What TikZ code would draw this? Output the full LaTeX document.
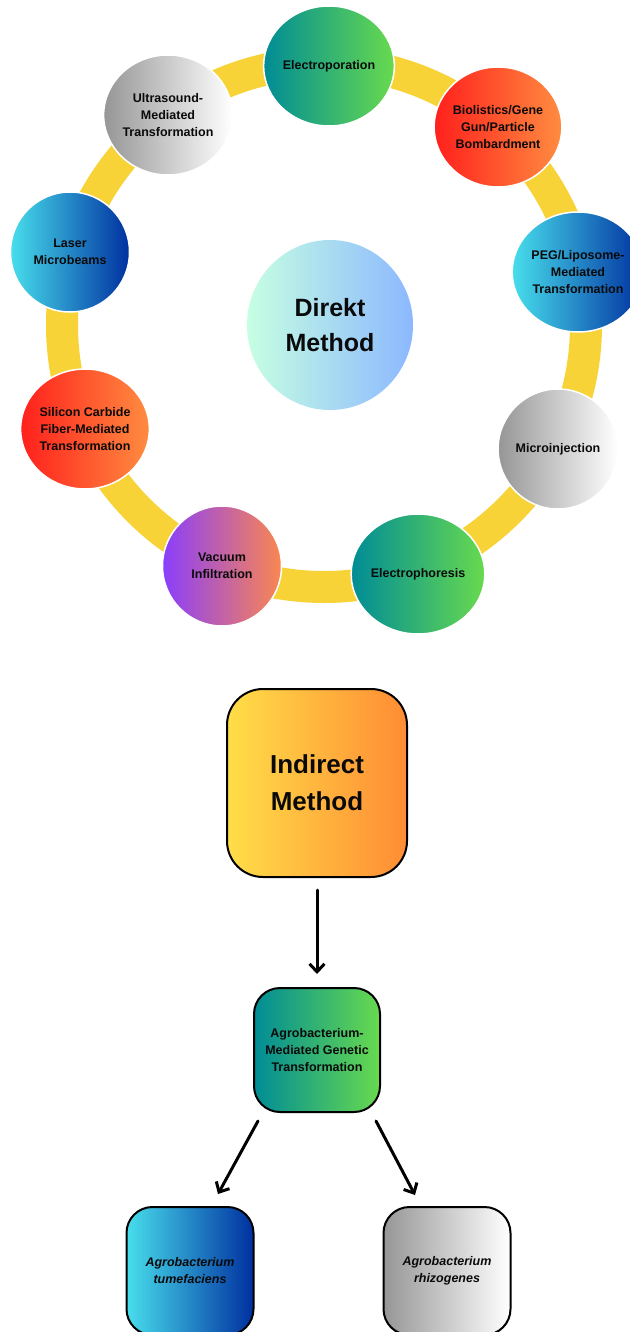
\documentclass[tikz,border=0pt]{standalone}
\usepackage{fontspec}
\setmainfont{Liberation Sans}
\usetikzlibrary{shapes.geometric,arrows.meta}
\definecolor{bandyellow}{RGB}{247,211,56}
\definecolor{tealL}{RGB}{0,140,150}
\definecolor{greenR}{RGB}{104,218,78}
\definecolor{redL}{RGB}{255,32,28}
\definecolor{orangeR}{RGB}{255,140,64}
\definecolor{cyanL}{RGB}{72,222,236}
\definecolor{blueR}{RGB}{0,48,160}
\definecolor{grayL}{RGB}{150,150,150}
\definecolor{purpleL}{RGB}{138,62,252}
\definecolor{salmonR}{RGB}{250,135,80}
\definecolor{mintL}{RGB}{198,255,226}
\definecolor{skyR}{RGB}{140,184,255}
\definecolor{yellowL}{RGB}{255,222,72}
\definecolor{orangeB}{RGB}{255,140,52}
\definecolor{txt}{RGB}{10,10,10}
\tikzset{
  sat/.style={ellipse, minimum width=119pt, minimum height=120pt, inner sep=0pt,
    draw=white, line width=1.5pt, align=center, text=txt,
    font=\fontsize{12.5}{17}\selectfont\bfseries},
  tealgreen/.style={left color=tealL, right color=greenR},
  redorange/.style={left color=redL, right color=orangeR},
  cyanblue/.style={left color=cyanL, right color=blueR},
  graywhite/.style={left color=grayL, right color=white},
  purpleorange/.style={left color=purpleL, right color=salmonR},
  box/.style={rectangle, draw=black, line width=2pt, align=center, text=txt,
    inner sep=0pt, font=\fontsize{12.5}{17}\selectfont\bfseries},
  arr/.style={draw=black, line width=3pt, line cap=round,
    -{Straight Barb[length=8pt,width=15pt,line width=3pt]}},
  band/.style={draw=bandyellow, line width=32pt}
}
\begin{document}
\begin{tikzpicture}[x=1pt,y=-1pt]
\useasboundingbox (0,0) rectangle (629,1332);
\fill[white] (0,0) rectangle (629,1332);
% ring
\draw[band] (324,325) circle[radius=262pt];
% center
\node[ellipse, minimum width=166pt, minimum height=170pt, inner sep=0pt,
  left color=mintL, right color=skyR, align=center, text=txt,
  font=\fontsize{25}{35}\selectfont\bfseries] (direkt) at (330,325) {Direkt\\Method};
% satellites
\node[sat, tealgreen] (electroporation) at (329,66) {Electroporation};
\node[sat, redorange] (biolistics) at (498,127) {Biolistics/Gene\\Gun/Particle\\Bombardment};
\node[sat, cyanblue] (peg) at (578,272) {PEG/Liposome-\\Mediated\\Transformation};
\node[sat, graywhite] (micro) at (558,449) {Microinjection};
\node[sat, tealgreen] (ephor) at (418,574) {Electrophoresis};
\node[sat, purpleorange] (vacuum) at (222,566) {Vacuum\\Infiltration};
\node[sat, redorange] (silicon) at (85,429) {Silicon Carbide\\Fiber-Mediated\\Transformation};
\node[sat, cyanblue] (laser) at (70,252) {Laser\\Microbeams};
\node[sat, graywhite] (ultra) at (168,115) {Ultrasound-\\Mediated\\Transformation};
% indirect part
\node[box, rounded corners=36pt, minimum width=180pt, minimum height=188pt,
  left color=yellowL, right color=orangeB,
  font=\fontsize{26}{37}\selectfont\bfseries] (indirect) at (317,783) {Indirect\\Method};
\node[box, rounded corners=26pt, minimum width=126pt, minimum height=124pt,
  tealgreen] (agro) at (317,1050) {Agrobacterium-\\Mediated Genetic\\Transformation};
\node[box, rounded corners=26pt, minimum width=127pt, minimum height=128pt,
  cyanblue, font=\fontsize{12.5}{17}\selectfont\bfseries\itshape] (tum) at (190,1271) {Agrobacterium\\tumefaciens};
\node[box, rounded corners=26pt, minimum width=127pt, minimum height=128pt,
  graywhite, font=\fontsize{12.5}{17}\selectfont\bfseries\itshape] (rhz) at (447,1271) {Agrobacterium\\rhizogenes};
% arrows
\draw[arr] ([yshift=-12pt]indirect.south) -- ([yshift=13pt]agro.north);
\draw[arr] ([xshift=5pt,yshift=-8pt]agro.south west) -- ([xshift=28pt,yshift=12pt]tum.north);
\draw[arr] ([xshift=-5pt,yshift=-8pt]agro.south east) -- ([xshift=-32pt,yshift=11pt]rhz.north);
\end{tikzpicture}
\end{document}
